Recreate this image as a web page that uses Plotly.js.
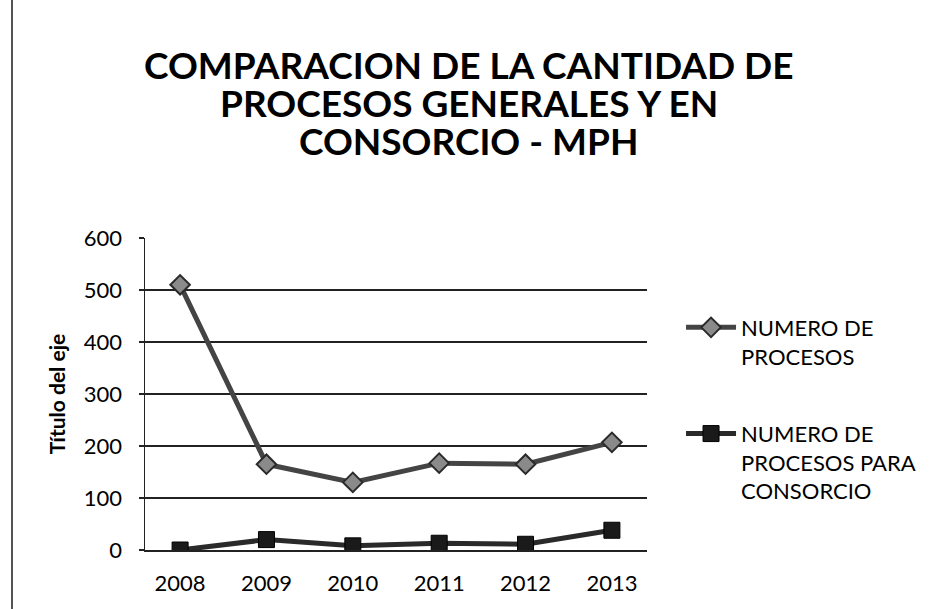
<!DOCTYPE html>
<html>
<head>
<meta charset="utf-8">
<script src="https://cdn.plot.ly/plotly-3.0.1.min.js"></script>
<style>
  html, body { margin: 0; padding: 0; background: #fff; }
  #chart { width: 930px; height: 609px; }
  #border { position: absolute; left: 11px; top: 0; width: 1.5px; height: 609px; background: #555; z-index: 10; }
</style>
</head>
<body>
<div id="chart"></div>
<div id="border"></div>
<script>
// ---- data ----
const years = ['2008', '2009', '2010', '2011', '2012', '2013'];
const numeroProcesos = [510, 165, 130, 167, 165, 207];
const numeroConsorcio = [0, 20, 8, 13, 11, 38];
const seriesNames = ['NUMERO DE<br>PROCESOS', 'NUMERO DE<br>PROCESOS PARA<br>CONSORCIO'];
const titleLines = ['COMPARACION DE LA CANTIDAD DE', 'PROCESOS GENERALES Y EN', 'CONSORCIO - MPH'];
const yTicks = [0, 100, 200, 300, 400, 500, 600];
const yAxisTitle = 'Título del eje';

const FONT = 'Lato, "Open Sans", sans-serif';

const traces = [
  {
    x: years, y: numeroProcesos, name: seriesNames[0], type: 'scatter', mode: 'lines+markers',
    line: { color: '#444444', width: 5 },
    marker: { symbol: 'diamond', size: 15, color: '#8a8a8a', line: { color: '#2a2a2a', width: 2 } },
    legendgroup: 'a'
  },
  {
    x: years, y: numeroConsorcio, name: seriesNames[1], type: 'scatter', mode: 'lines+markers',
    line: { color: '#2a2a2a', width: 5 },
    marker: { symbol: 'square', size: 16, color: '#1a1a1a', line: { color: '#000', width: 1 } },
    legendgroup: 'b'
  }
];

const annotations = titleLines.map((t, i) => ({
  text: t, xref: 'paper', yref: 'paper', x: 0.645, y: 1 + (174 - 38 * i) / 312,
  xanchor: 'center', yanchor: 'middle', showarrow: false,
  font: { family: FONT, size: 37, color: '#000', weight: 'bold' }
}));

const layout = {
  width: 930, height: 609,
  margin: { l: 145, r: 283, t: 238, b: 59 },
  paper_bgcolor: '#fff', plot_bgcolor: '#fff',
  showlegend: true,
  font: { family: FONT, color: '#000' },
  annotations: annotations,
  xaxis: {
    type: 'category', tickvals: years, ticktext: years,
    showgrid: false, showline: true, linecolor: '#222', linewidth: 1.5,
    ticks: '', ticklabelstandoff: 13,
    tickfont: { family: FONT, size: 22, color: '#000' },
    zeroline: false, fixedrange: true
  },
  yaxis: {
    range: [0, 600], tickvals: yTicks, ticktext: yTicks.map(String),
    showgrid: true, gridcolor: '#222', gridwidth: 1.5,
    showline: true, linecolor: '#222', linewidth: 1.5,
    ticks: 'outside', ticklen: 5, tickcolor: '#222', tickwidth: 1.5,
    ticklabelstandoff: 12,
    tickfont: { family: FONT, size: 22, color: '#000' },
    zeroline: false, fixedrange: true,
    title: { text: yAxisTitle, font: { family: FONT, size: 21, color: '#000', weight: 'bold' }, standoff: 12 }
  },
  legend: {
    xref: 'container', yref: 'container',
    x: 0.7323, xanchor: 'left', y: 0.4966, yanchor: 'top',
    valign: 'top', traceorder: 'grouped', tracegroupgap: 46,
    font: { family: FONT, size: 22, color: '#000' },
    itemwidth: 50, bgcolor: 'rgba(0,0,0,0)'
  }
};

Plotly.newPlot('chart', traces, layout, { displayModeBar: false, staticPlot: true });
</script>
</body>
</html>
